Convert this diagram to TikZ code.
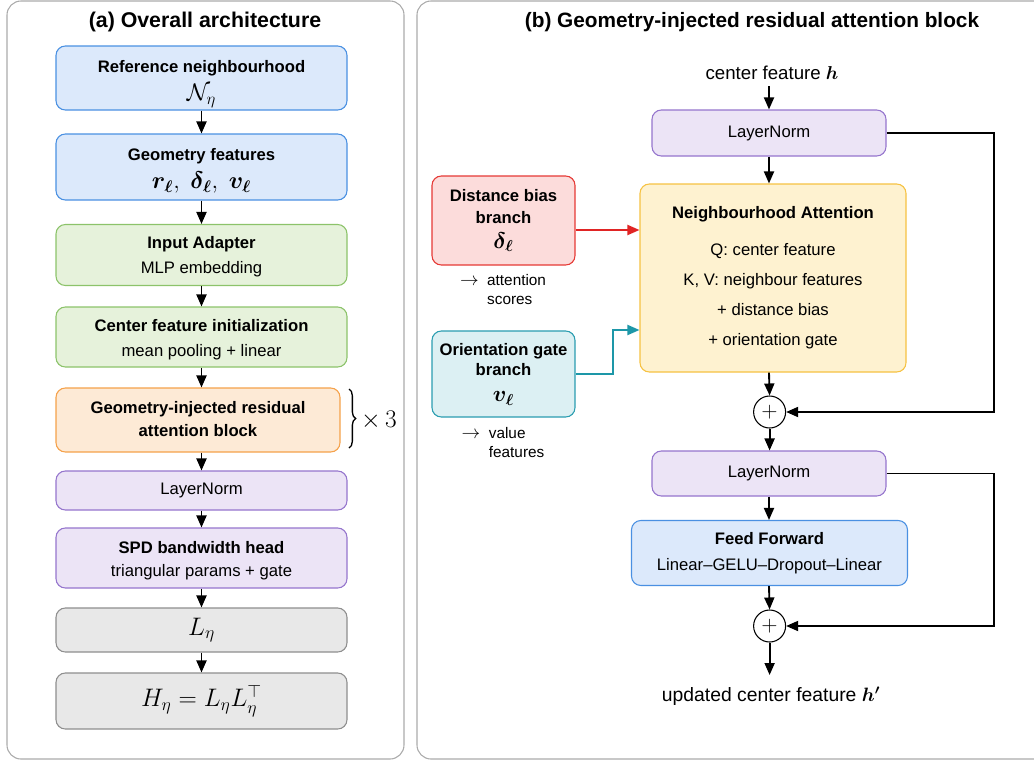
\RequirePackage{fix-cm}
\documentclass[tikz,border=0pt]{standalone}
\usepackage{amsmath}
\usepackage{fontspec}
\setmainfont{Liberation Sans}
\usepackage{bm}
\usetikzlibrary{arrows.meta,decorations.pathreplacing,calc}
\definecolor{bluefill}{HTML}{DCE9FB}\definecolor{blueline}{HTML}{4A90E2}
\definecolor{greenfill}{HTML}{E6F2DB}\definecolor{greenline}{HTML}{8CC36A}
\definecolor{orangefill}{HTML}{FDEAD6}\definecolor{orangeline}{HTML}{F5A14A}
\definecolor{purplefill}{HTML}{ECE4F6}\definecolor{purpleline}{HTML}{9575CD}
\definecolor{grayfill}{HTML}{E8E8E8}\definecolor{grayline}{HTML}{8E8E8E}
\definecolor{yellowfill}{HTML}{FEF2D0}\definecolor{yellowline}{HTML}{F6C242}
\definecolor{redfill}{HTML}{FCDCDB}\definecolor{redline}{HTML}{E53935}
\definecolor{tealfill}{HTML}{DCF0F3}\definecolor{tealline}{HTML}{2A9DB0}
\definecolor{redarr}{HTML}{E02424}\definecolor{tealarr}{HTML}{1D97A8}
\definecolor{panelline}{HTML}{ABABAB}
\newcommand{\lowtext}[2]{\raisebox{-#1}[\height][\depth]{\begin{tabular}{@{}c@{}}#2\end{tabular}}}
\begin{document}
\begin{tikzpicture}[x=0.75pt,y=-0.75pt,
  wd/.style={minimum width=#1*0.75pt},
  ht/.style={minimum height=#1*0.75pt},
  box/.style={draw,rounded corners=7pt,line width=0.8pt,align=center,inner sep=0pt,
    font=\fontsize{12.5}{14.5}\selectfont},
  bluebox/.style={box,fill=bluefill,draw=blueline},
  greenbox/.style={box,fill=greenfill,draw=greenline},
  orangebox/.style={box,fill=orangefill,draw=orangeline},
  purplebox/.style={box,fill=purplefill,draw=purpleline},
  graybox/.style={box,fill=grayfill,draw=grayline},
  yellowbox/.style={box,fill=yellowfill,draw=yellowline},
  redbox/.style={box,fill=redfill,draw=redline},
  tealbox/.style={box,fill=tealfill,draw=tealline},
  panel/.style={draw=panelline,line width=0.8pt,rounded corners=10.5pt},
  arr/.style={-{Triangle[length=9pt,width=7.5pt]},line width=1.4pt},
  title/.style={font=\fontsize{16}{19}\selectfont\bfseries},
  plain/.style={font=\fontsize{12}{14}\selectfont,align=center,inner sep=0pt},
  sumnode/.style={circle,draw,line width=0.8pt,fill=white,minimum size=24pt,inner sep=0pt,font=\fontsize{16}{18}\selectfont}
]
\useasboundingbox (0,0) rectangle (1034,761);
\clip (0,0) rectangle (1034,761);
% panels
\draw[panel] (7,1) rectangle (404,759);
\draw[panel] (417,1) rectangle (1050,759);
\node[title] (ta) at (205,22) {(a) Overall architecture};
\node[title,font=\fontsize{15.6}{19}\selectfont\bfseries] (tb) at (752,22) {(b) Geometry-injected residual attention block};

% ---------- left panel ----------
\node[bluebox,wd=291,ht=64] (b1) at (201.5,78)
  {\lowtext{4pt}{\textbf{Reference neighbourhood}\\[4pt]{\fontsize{18}{20}\selectfont$\mathcal{N}_{\eta}$}}};
\node[bluebox,wd=291,ht=66] (b2) at (201.5,167)
  {\lowtext{3pt}{\textbf{Geometry features}\\[4pt]{\fontsize{18}{20}\selectfont$\bm{r_{\ell}},\ \bm{\delta_{\ell}},\ \bm{v_{\ell}}$}}};
\node[greenbox,wd=291,ht=61] (b3) at (201.5,255)
  {\lowtext{1.5pt}{\textbf{Input Adapter}\\[4pt]MLP embedding}};
\node[greenbox,wd=291,ht=60] (b4) at (201.5,337)
  {\lowtext{2.5pt}{\textbf{Center feature initialization}\\[4pt]mean pooling + linear}};
\node[orangebox,wd=284,ht=64] (b5) at (198,420)
  {\lowtext{1pt}{\textbf{Geometry-injected residual}\\[3pt]\textbf{attention block}}};
\node[purplebox,wd=291,ht=39] (b6) at (201.5,490.5) {LayerNorm};
\node[purplebox,wd=291,ht=60] (b7) at (201.5,558)
  {\lowtext{2.5pt}{\textbf{SPD bandwidth head}\\[3pt]triangular params + gate}};
\node[graybox,wd=291,ht=44] (b8) at (201.5,630) {\fontsize{19}{21}\selectfont$L_{\eta}$};
\node[graybox,wd=291,ht=56] (b9) at (201.5,701) {\fontsize{19}{21}\selectfont$H_{\eta}=L_{\eta}L_{\eta}^{\top}$};

\draw[arr] (b1.south) -- (b2.north);
\draw[arr] (b2.south) -- (b3.north);
\draw[arr] (b3.south) -- (b4.north);
\draw[arr] (b4.south) -- (b4.south |- b5.north);
\draw[arr] (b4.south |- b5.south) -- (b6.north);
\draw[arr] (b6.south) -- (b7.north);
\draw[arr] (b7.south) -- (b8.north);
\draw[arr] (b8.south) -- (b9.north);

\coordinate (brt) at (349,389);
\coordinate (brb) at (349,448);
\draw[line width=1pt,decorate,decoration={brace,amplitude=5pt}] (brt) -- (brb);
\node[font=\fontsize{19}{21}\selectfont] (x3) at (379,420) {$\times\,3$};

% ---------- right panel ----------
\node[plain,font=\fontsize{14}{17}\selectfont] (hin) at (772,73) {center feature $\bm{h}$};
\node[purplebox,wd=234,ht=46] (ln1) at (769,133) {LayerNorm};
\node[yellowbox,wd=266,ht=188] (attn) at (773,278)
  {\textbf{Neighbourhood Attention}\\[13pt]Q: center feature\\[8pt]K, V: neighbour features\\[8pt]+ distance bias\\[8pt]+ orientation gate};
\node[redbox,wd=143,ht=89] (dist) at (503.5,220.5)
  {\textbf{Distance bias}\\[2pt]\textbf{branch}\\[4pt]{\fontsize{17}{19}\selectfont$\bm{\delta_{\ell}}$}};
\node[tealbox,wd=143,ht=86] (orient) at (503.5,374)
  {\textbf{Orientation gate}\\[1pt]\textbf{branch}\\[5pt]{\fontsize{17}{19}\selectfont$\bm{v_{\ell}}$}};
\node[plain,font=\fontsize{11.5}{14}\selectfont] (n1) at (503,291)
  {\begin{tabular}{@{}l@{\ \ }l@{}}{\fontsize{14}{14}\selectfont$\rightarrow$} & attention\\ & scores\end{tabular}};
\node[plain,font=\fontsize{11.5}{14}\selectfont] (n2) at (503,444)
  {\begin{tabular}{@{}l@{\ \ }l@{}}{\fontsize{14}{14}\selectfont$\rightarrow$} & value\\ & features\end{tabular}};
\node[sumnode] (p1) at (769.6,412) {$+$};
\node[purplebox,wd=234,ht=45] (ln2) at (769,473.5) {LayerNorm};
\node[bluebox,wd=276,ht=65] (ff) at (769.5,553)
  {\textbf{Feed Forward}\\[5pt]Linear–GELU–Dropout–Linear};
\node[sumnode] (p2) at (769.6,626) {$+$};
\node[plain,font=\fontsize{14.5}{17}\selectfont] (hout) at (771,696) {updated center feature $\bm{h'}$};

\coordinate (hs) at (769,86);
\coordinate (oe) at (769.6,675);
\draw[arr] (hs) -- (ln1.north);
\draw[arr] (ln1.south) -- (ln1.south |- attn.north);
\draw[arr] (ln1.south |- attn.south) -- (p1.north);
\draw[arr] (p1.south) -- (p1.south |- ln2.north);
\draw[arr] (ln2.south) -- (ln2.south |- ff.north);
\draw[arr] (ln2.south |- ff.south) -- (p2.north);
\draw[arr] (p2.south) -- (oe);

\coordinate (r1) at (994,300);
\coordinate (r2) at (994,550);
\draw[arr] (ln1.east) -| (r1) |- (p1.east);
\draw[arr] (ln2.east) -| (r2) |- (p2.east);

\coordinate (ry) at (0,230);
\draw[arr,color=redarr] (dist.east |- ry) -- (attn.west |- ry);
\coordinate (ty) at (0,330);
\coordinate (tx) at (612.6,350);
\draw[arr,color=tealarr] (orient.east) -| (tx) |- (attn.west |- ty);
\end{tikzpicture}
\end{document}
